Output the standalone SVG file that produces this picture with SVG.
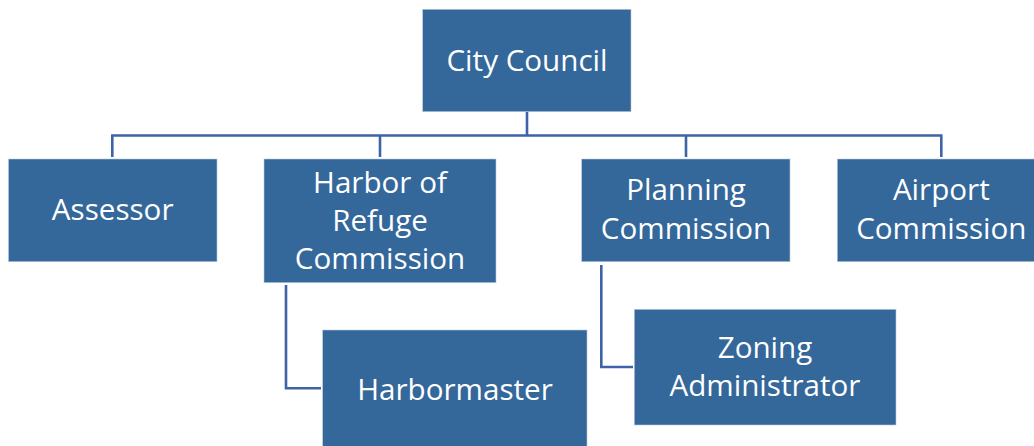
<svg xmlns="http://www.w3.org/2000/svg" width="1034" height="446" viewBox="0 0 1034 446">
  <style>
    .box { fill: #34679A; stroke: #B9C9DC; stroke-width: 0.6; }
    .lbl { font-family: "Open Sans", "Noto Sans", sans-serif; font-size: 29.6px; fill: #FFFFFF; text-anchor: middle; }
    .conn { fill: none; stroke: #3E63A6; stroke-width: 2.6; }
  </style>
  <rect width="1034" height="446" fill="#FFFFFF"/>
  <g id="connectors">
    <path class="conn" d="M527 112 V135.5"/>
    <path class="conn" d="M112.3 157 V135.5 H941.3 V157"/>
    <path class="conn" d="M380 135.5 V157"/>
    <path class="conn" d="M686 135.5 V157"/>
    <path class="conn" d="M286 285 V388.3 H321"/>
    <path class="conn" d="M601.3 265 V367 H633"/>
  </g>
  <g id="city-council">
    <rect class="box" x="422.7" y="9.3" width="208.3" height="102.4"/>
    <text class="lbl" x="527" y="71">City Council</text>
  </g>
  <g id="assessor">
    <rect class="box" x="8.5" y="159" width="208.5" height="102.7"/>
    <text class="lbl" x="112.7" y="220">Assessor</text>
  </g>
  <g id="harbor-of-refuge-commission">
    <rect class="box" x="264" y="159" width="232" height="123.7"/>
    <text class="lbl" x="380" y="193">Harbor of</text>
    <text class="lbl" x="380" y="231">Refuge</text>
    <text class="lbl" x="380" y="269">Commission</text>
  </g>
  <g id="planning-commission">
    <rect class="box" x="581.7" y="159" width="208.3" height="102.7"/>
    <text class="lbl" x="686" y="200">Planning</text>
    <text class="lbl" x="686" y="238.5">Commission</text>
  </g>
  <g id="airport-commission">
    <rect class="box" x="837.3" y="159" width="208" height="102.7"/>
    <text class="lbl" x="941.3" y="200">Airport</text>
    <text class="lbl" x="941.3" y="238.5">Commission</text>
  </g>
  <g id="harbormaster">
    <rect class="box" x="322.7" y="330" width="264.3" height="120"/>
    <text class="lbl" x="455" y="400">Harbormaster</text>
  </g>
  <g id="zoning-administrator">
    <rect class="box" x="634.3" y="309.3" width="261.7" height="115.7"/>
    <text class="lbl" x="765" y="357.5">Zoning</text>
    <text class="lbl" x="765" y="396">Administrator</text>
  </g>
</svg>
